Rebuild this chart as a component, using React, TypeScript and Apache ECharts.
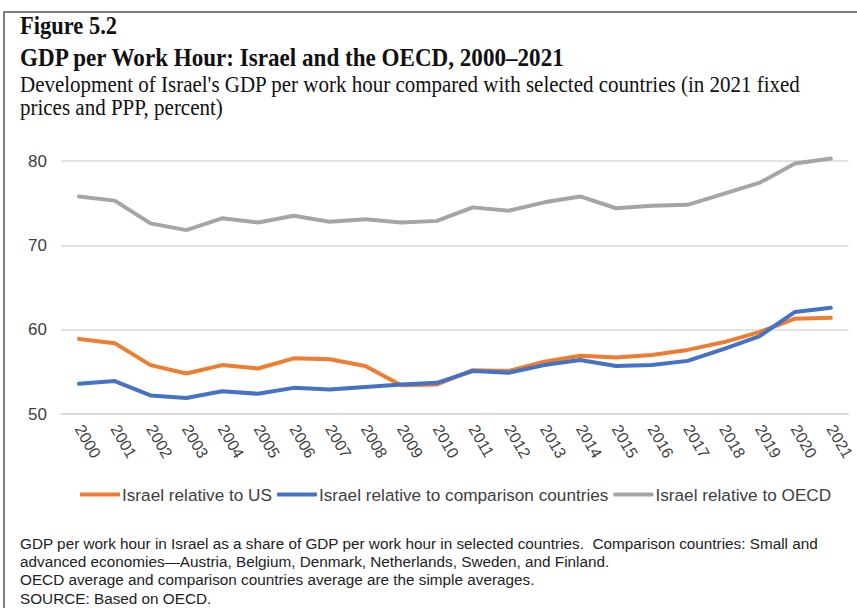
import React, { useEffect, useRef } from "react";
import * as echarts from "echarts";

const years = ["2000","2001","2002","2003","2004","2005","2006","2007","2008","2009","2010","2011","2012","2013","2014","2015","2016","2017","2018","2019","2020","2021"];
const israelVsUS = [58.9,58.4,55.8,54.8,55.8,55.4,56.6,56.5,55.7,53.4,53.5,55.2,55.1,56.2,56.9,56.7,57.0,57.6,58.5,59.7,61.3,61.4];
const israelVsComparison = [53.6,53.9,52.2,51.9,52.7,52.4,53.1,52.9,53.2,53.5,53.7,55.1,54.9,55.8,56.4,55.7,55.8,56.3,57.7,59.2,62.1,62.6];
const israelVsOECD = [75.8,75.3,72.6,71.8,73.2,72.7,73.5,72.8,73.1,72.7,72.9,74.5,74.1,75.1,75.8,74.4,74.7,74.8,76.1,77.4,79.7,80.3];
const seriesNames = ["Israel relative to US","Israel relative to comparison countries","Israel relative to OECD"];
const yTicks = { min: 50, max: 80, interval: 10 };

const figureLabel = "Figure 5.2";
const titleText = "GDP per Work Hour: Israel and the OECD, 2000–2021";
const subtitleLines = [
  "Development of Israel's GDP per work hour compared with selected countries (in 2021 fixed",
  "prices and PPP, percent)",
];
const noteLines = [
  "GDP per work hour in Israel as a share of GDP per work hour in selected countries.  Comparison countries: Small and",
  "advanced economies—Austria, Belgium, Denmark, Netherlands, Sweden, and Finland.",
  "OECD average and comparison countries average are the simple averages.",
  "SOURCE: Based on OECD.",
];

export default function App() {
  const ref = useRef<HTMLDivElement>(null);
  useEffect(() => {
    if (!ref.current) return;
    const chart = echarts.init(ref.current, null, { renderer: "svg" });
    const colors = ["#ED7D31", "#4472C4", "#A5A5A5"];
    const serif = '"Liberation Serif", "Times New Roman", serif';
    const sans = '"Liberation Sans", Arial, sans-serif';
    const noteY = [543, 561, 579, 598];
    const graphic: any[] = [
      {
        type: "rect",
        shape: { x: 4, y: 12, width: 900, height: 700 },
        style: { fill: "none", stroke: "#555", lineWidth: 1.5 },
        silent: true,
      },
      {
        type: "text", x: 20, y: 26, scaleY: 1.12,
        style: { text: figureLabel, x: 0, y: 0, font: `bold 22.5px ${serif}`, fill: "#111", textVerticalAlign: "middle" },
      },
      {
        type: "text", x: 20, y: 57, scaleY: 1.12,
        style: { text: titleText, x: 0, y: 0, font: `bold 23.1px ${serif}`, fill: "#111", textVerticalAlign: "middle" },
      },
      ...subtitleLines.map((t, i) => ({
        type: "text", x: 20, y: 85 + i * 23, scaleY: 1.05,
        style: { text: t, x: 0, y: 0, font: `21px ${serif}`, fill: "#111", textVerticalAlign: "middle" },
      })),
      ...noteLines.map((t, i) => ({
        type: "text", x: 20, y: noteY[i],
        style: { text: t, x: 0, y: 0, font: `15.3px ${sans}`, fill: "#222", textVerticalAlign: "middle" },
      })),
    ];
    const mk = (name: string, data: number[], color: string) => ({
      name,
      type: "line",
      data,
      symbol: "none",
      clip: false,
      color,
      lineStyle: { width: 4, color, cap: "round", join: "round" },
    });
    chart.setOption({
      animation: false,
      backgroundColor: "#fff",
      grid: { left: 61, right: 7, top: 161, bottom: 194, containLabel: false },
      legend: {
        left: 80,
        top: 486,
        padding: 0,
        icon: "roundRect",
        itemWidth: 40,
        itemHeight: 4,
        itemGap: 5,
        textStyle: { fontFamily: sans, fontSize: 17.2, color: "#404040", padding: [0, 0, 0, -3] },
        data: seriesNames,
      },
      xAxis: {
        type: "category",
        data: years,
        boundaryGap: true,
        axisLine: { show: true, lineStyle: { color: "#D9D9D9", width: 1.5 } },
        axisTick: { show: false },
        axisLabel: { rotate: -60, margin: 12, fontFamily: sans, fontSize: 16, color: "#404040", interval: 0 },
      },
      yAxis: {
        type: "value",
        min: yTicks.min,
        max: yTicks.max,
        interval: yTicks.interval,
        axisLine: { show: false },
        axisTick: { show: false },
        splitLine: { lineStyle: { color: "#D9D9D9", width: 1.5 } },
        axisLabel: { margin: 14, fontFamily: sans, fontSize: 17, color: "#404040" },
      },
      series: [
        mk(seriesNames[0], israelVsUS, colors[0]),
        mk(seriesNames[1], israelVsComparison, colors[1]),
        mk(seriesNames[2], israelVsOECD, colors[2]),
      ],
      graphic,
    });
    return () => chart.dispose();
  }, []);
  return <div ref={ref} style={{ position: "fixed", left: 0, top: 0, width: 857, height: 608, background: "#fff" }} />;
}
